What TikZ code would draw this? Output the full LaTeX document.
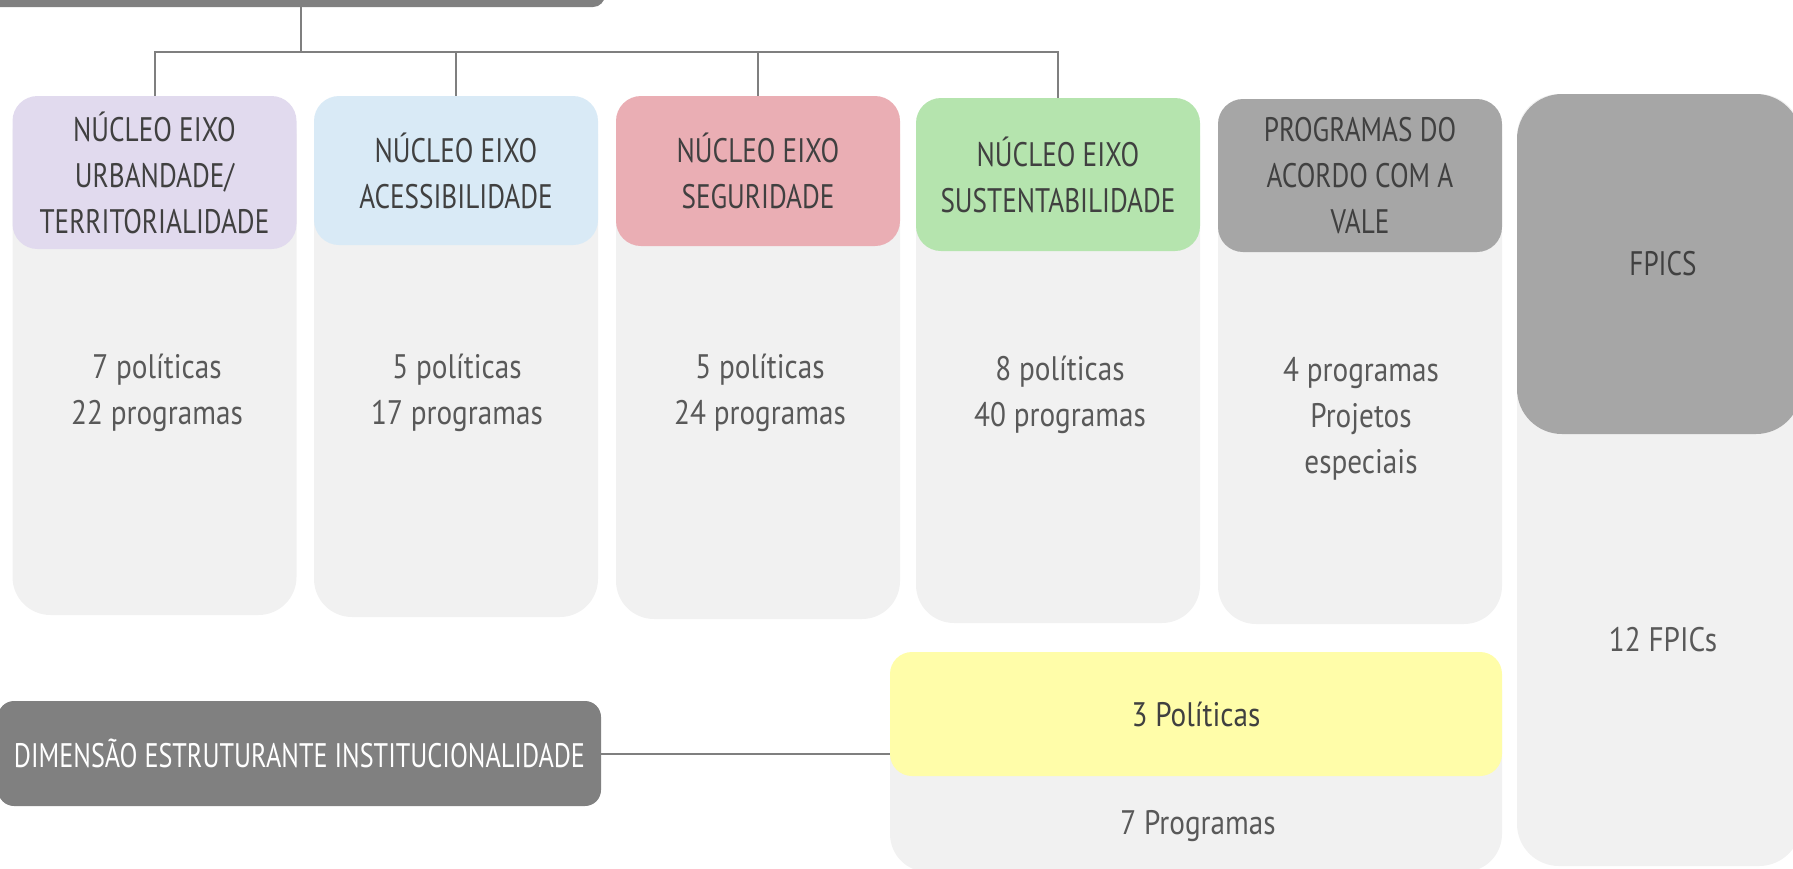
\documentclass[tikz,border=0pt]{standalone}
\usepackage{fontspec}
\setmainfont{PT Sans}
\newfontfamily\capsfont[FakeStretch=0.80]{PT Sans}
\newfontfamily\bodyfont[FakeStretch=0.86]{PT Sans}
\newfontfamily\dimfont[FakeStretch=0.77]{PT Sans}
\definecolor{linegray}{HTML}{7F7F7F}
\definecolor{darkbox}{HTML}{808080}
\definecolor{midbox}{HTML}{A6A6A6}
\definecolor{bodybg}{HTML}{F1F1F1}
\definecolor{lavender}{HTML}{E1DAEE}
\definecolor{skyblue}{HTML}{D9EAF6}
\definecolor{rosepink}{HTML}{EAAEB4}
\definecolor{leafgreen}{HTML}{B5E4AE}
\definecolor{paleyellow}{HTML}{FFFDA9}
\definecolor{headtext}{HTML}{404040}
\definecolor{bodytext}{HTML}{595959}
\tikzset{
  box/.style={rectangle, inner sep=0pt, draw=none},
  headbox/.style={box, rounded corners=25pt, minimum width=284pt,
    text=headtext, align=center, font=\capsfont\fontsize{34}{46}\selectfont},
  colbody/.style={box, fill=bodybg, rounded corners=38pt, minimum width=284pt},
  bodylabel/.style={inner sep=0pt, text=bodytext, align=center,
    font=\bodyfont\fontsize{34}{46}\selectfont},
  conn/.style={draw=linegray, line width=2pt},
}
\begin{document}
\begin{tikzpicture}[x=1pt, y=-1pt]
\useasboundingbox (0,0) rectangle (1793,868);
\clip (0,0) rectangle (1793,868);

% column bodies
\node[colbody, minimum height=519pt] (b1) at (154.5,355.5) {};
\node[colbody, minimum height=521pt] (b2) at (456,356.5) {};
\node[colbody, minimum height=523pt] (b3) at (758,357.5) {};
\node[colbody, minimum height=525pt] (b4) at (1058,360.5) {};
\node[colbody, minimum height=525pt] (b5) at (1360,361.5) {};
\node[colbody, minimum height=772pt, rounded corners=42pt] (b6) at (1659,480) {};
\node[colbody, minimum width=612pt, minimum height=220pt] (b7) at (1196,762) {};

% column headers
\node[headbox, fill=lavender, minimum height=153pt] (h1) at (154.5,172.5)
  {N\'UCLEO EIXO\\URBANDADE/\\TERRITORIALIDADE};
\node[headbox, fill=skyblue, minimum height=149pt] (h2) at (456,170.5)
  {N\'UCLEO EIXO\\ACESSIBILIDADE};
\node[headbox, fill=rosepink, minimum height=150pt] (h3) at (758,171)
  {N\'UCLEO EIXO\\SEGURIDADE};
\node[headbox, fill=leafgreen, minimum height=153pt] (h4) at (1058,174.5)
  {N\'UCLEO EIXO\\SUSTENTABILIDADE};
\node[headbox, fill=midbox, minimum height=153pt] (h5) at (1360,175.5)
  {PROGRAMAS DO\\ACORDO COM A\\VALE};
\node[headbox, fill=midbox, minimum height=340pt, rounded corners=45pt] (h6) at (1659,264)
  {\hspace*{8pt}FPICS};

% column contents
\node[bodylabel] (t1) at (157,393) {7 políticas\\22 programas};
\node[bodylabel] (t2) at (457,393) {5 políticas\\17 programas};
\node[bodylabel] (t3) at (760,393) {5 políticas\\24 programas};
\node[bodylabel] (t4) at (1060,395) {8 políticas\\40 programas};
\node[bodylabel] (t5) at (1361,419) {4 programas\\Projetos\\especiais};
\node[bodylabel] (t6) at (1663,640) {12 FPICs};

% institutional dimension
\node[box, fill=paleyellow, rounded corners=22pt, minimum width=612pt,
  minimum height=124pt, text=headtext, font=\bodyfont\fontsize{34}{46}\selectfont]
  (yel) at (1196,714) {3 Políticas};
\node[bodylabel] (t7) at (1198,826) {7 Programas};
\node[box, fill=darkbox, rounded corners=16pt, minimum width=603pt,
  minimum height=105pt, text=white, font=\dimfont\fontsize{34}{46}\selectfont]
  (dim) at (299.5,753.5) {DIMENSÃO ESTRUTURANTE INSTITUCIONALIDADE};

% top bar
\node[box, fill=darkbox, rounded corners=12pt, minimum width=625pt,
  minimum height=57pt] (top) at (292.5,-21.5) {};

% connectors
\coordinate (hub) at (301,52);
\draw[conn] (hub |- top.south) -- (hub);
\draw[conn] (hub) -| (h1.north);
\draw[conn] (hub) -| (h2.north);
\draw[conn] (hub) -| (h3.north);
\draw[conn] (hub) -| (h4.north);
\draw[conn] (dim.east) -- (dim.east -| yel.west);
\end{tikzpicture}
\end{document}
